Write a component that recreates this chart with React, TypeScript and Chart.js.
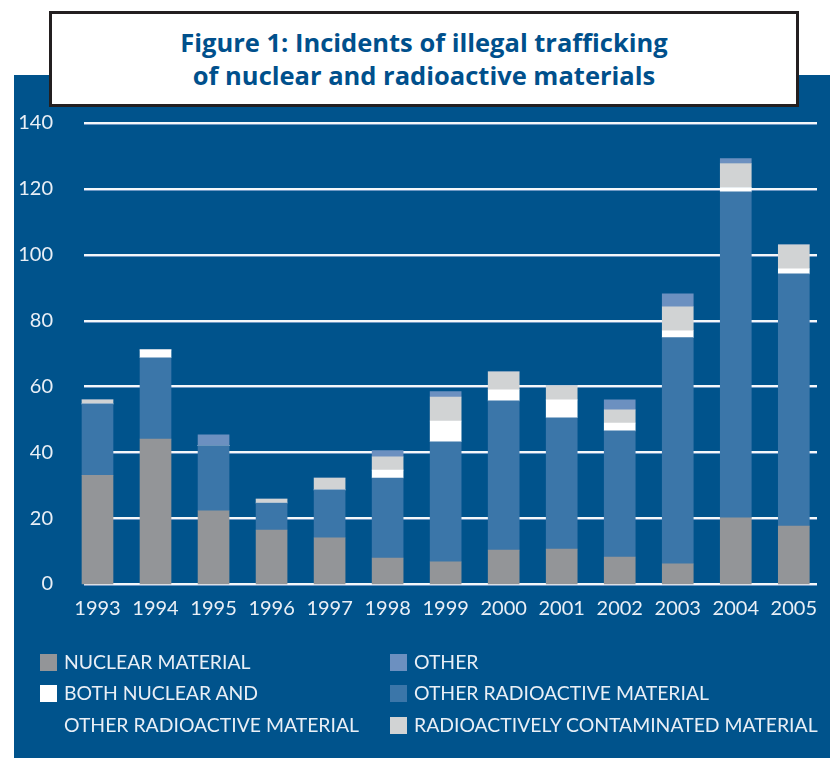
import React, { useEffect, useRef } from "react";
import { Chart, registerables } from "chart.js";

Chart.register(...registerables);

const years = ["1993", "1994", "1995", "1996", "1997", "1998", "1999", "2000", "2001", "2002", "2003", "2004", "2005"];
const nuclearMaterial = [33, 44, 22.2, 16.4, 14, 7.9, 6.7, 10.3, 10.6, 8.2, 6.1, 20.1, 17.6];
const otherRadioactive = [21.7, 24.7, 19.8, 8.2, 14.6, 24.3, 36.5, 45.3, 39.9, 38.3, 68.7, 99, 76.6];
const bothNuclearAndOther = [0, 2.4, 0, 0, 0, 2.4, 6.3, 3.4, 5.4, 2.4, 2.1, 1.3, 1.5];
const contaminated = [1.2, 0, 0, 1.2, 3.6, 4, 7.3, 5.4, 4.3, 4, 7.3, 7.3, 7.3];
const otherIncidents = [0, 0, 3.3, 0, 0, 1.9, 1.6, 0, 0, 3, 3.9, 1.5, 0];
const yTicks = [0, 20, 40, 60, 80, 100, 120, 140];

const BG = "#00538C";
const TEXT = "#E9EFF6";
const FONT = "Lato, 'Open Sans', sans-serif";

const seriesDefs = [
  { label: "NUCLEAR MATERIAL", data: nuclearMaterial, color: "#939598" },
  { label: "OTHER RADIOACTIVE MATERIAL", data: otherRadioactive, color: "#3B76A9" },
  { label: "BOTH NUCLEAR AND OTHER RADIOACTIVE MATERIAL", data: bothNuclearAndOther, color: "#FFFFFF" },
  { label: "RADIOACTIVELY CONTAMINATED MATERIAL", data: contaminated, color: "#D1D3D4" },
  { label: "OTHER", data: otherIncidents, color: "#6C90C0" },
];

const gridPlugin = {
  id: "customGrid",
  beforeDatasetsDraw(chart: any) {
    const ys = chart.scales.y;
    const ctx = chart.ctx;
    ctx.save();
    yTicks.forEach((v) => {
      const y = Math.round(ys.getPixelForValue(v));
      ctx.fillStyle = "#F4F7FA";
      ctx.fillRect(84, y - 1, 733, 2);
      ctx.fillStyle = "#6F98C4";
      ctx.fillRect(84, y + 1, 733, 1);
    });
    ctx.restore();
  },
};

function LegendItem({ x, y, color, lines }: { x: number; y: number; color: string; lines: string[] }) {
  return (
    <>
      <div style={{ position: "absolute", left: x, top: y - 8, width: 17, height: 17, background: color }} />
      {lines.map((t, i) => (
        <div
          key={i}
          style={{
            position: "absolute",
            left: x + 24,
            top: y - 12 + i * 32,
            height: 24,
            lineHeight: "24px",
            fontFamily: FONT,
            fontSize: 19.4,
            color: TEXT,
            whiteSpace: "nowrap",
          }}
        >
          {t}
        </div>
      ))}
    </>
  );
}

export default function App() {
  const ref = useRef<HTMLCanvasElement>(null);

  useEffect(() => {
    if (!ref.current) return;
    const chart = new Chart(ref.current, {
      type: "bar",
      data: {
        labels: years,
        datasets: seriesDefs.map((s) => ({
          label: s.label,
          data: s.data,
          backgroundColor: s.color,
          borderWidth: 0,
          barThickness: 31,
          clip: false as any,
        })),
      },
      plugins: [gridPlugin],
      options: {
        animation: false,
        responsive: false,
        devicePixelRatio: 1,
        layout: { padding: { top: 123, right: 25.5, left: 0, bottom: 0 } },
        plugins: { legend: { display: false }, tooltip: { enabled: false }, title: { display: false } },
        scales: {
          x: {
            stacked: true,
            offset: false,
            grid: { display: false, drawTicks: false },
            border: { display: false },
            ticks: {
              color: TEXT,
              font: { family: FONT, size: 20 },
              padding: 13,
              maxRotation: 0,
              autoSkip: false,
            },
            afterFit: (s: any) => {
              s.height = 174;
            },
          },
          y: {
            stacked: true,
            min: 0,
            max: 140,
            grid: { display: false, drawTicks: false },
            border: { display: false },
            ticks: {
              stepSize: 20,
              color: TEXT,
              font: { family: FONT, size: 20 },
              padding: 44.5,
            },
            afterFit: (s: any) => {
              s.width = 97.5;
            },
          },
        },
      },
    });
    return () => chart.destroy();
  }, []);

  return (
    <div style={{ position: "absolute", left: 0, top: 0, width: 830, height: 758, overflow: "hidden", background: "#FFFFFF" }}>
      <div style={{ position: "absolute", left: 14, top: 75, width: 816, height: 683, background: BG }} />
      <canvas ref={ref} width={830} height={758} style={{ position: "absolute", left: 0, top: 0, width: 830, height: 758 }} />
      <div
        style={{
          position: "absolute",
          left: 49,
          top: 11,
          width: 744,
          height: 89,
          paddingBottom: 1,
          border: "3px solid #231F20",
          background: "#FFFFFF",
          display: "flex",
          flexDirection: "column",
          alignItems: "center",
          justifyContent: "center",
          fontFamily: "'Open Sans', Lato, sans-serif",
          fontWeight: 700,
          fontSize: 25.5,
          lineHeight: "33px",
          color: "#00508C",
          textAlign: "center",
        }}
      >
        <div>Figure 1: Incidents of illegal trafficking</div>
        <div>of nuclear and radioactive materials</div>
      </div>
      <LegendItem x={40} y={662} color="#939598" lines={["NUCLEAR MATERIAL"]} />
      <LegendItem x={40} y={693} color="#FFFFFF" lines={["BOTH NUCLEAR AND", "OTHER RADIOACTIVE MATERIAL"]} />
      <LegendItem x={390} y={662} color="#6C90C0" lines={["OTHER"]} />
      <LegendItem x={390} y={693} color="#3B76A9" lines={["OTHER RADIOACTIVE MATERIAL"]} />
      <LegendItem x={390} y={725} color="#D1D3D4" lines={["RADIOACTIVELY CONTAMINATED MATERIAL"]} />
    </div>
  );
}
